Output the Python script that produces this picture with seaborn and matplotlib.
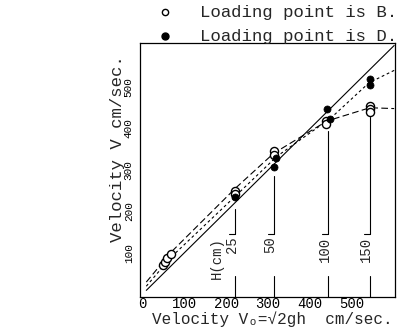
import matplotlib
matplotlib.use("Agg")
import matplotlib.pyplot as plt
import seaborn as sns
import pandas as pd

# ---- data ----
# ideal line V = Vo
ideal_x = [10, 600]
ideal_y = [10, 600]
# fitted curve, loading point B (long dashes)
curve_b_x = [10, 69, 221, 313, 440, 542, 600]
curve_b_y = [30, 102, 255, 340, 418, 450, 448]
# fitted curve, loading point D (short dashes)
curve_d_x = [10, 69, 221, 321, 448, 540, 600]
curve_d_y = [20, 90, 236, 333, 424, 510, 540]
# measured points, loading point B (open circles)
b_x = [50, 55, 60, 69, 221, 221, 313, 313, 438, 438, 542, 542, 542]
b_y = [71, 79, 88, 98, 250, 243, 345, 335, 419, 410, 455, 447, 440]
# measured points, loading point D (filled circles)
d_x = [221, 313, 319, 440, 448, 542, 542]
d_y = [236, 307, 329, 446, 424, 519, 505]
# drop heights H (cm) and corresponding Vo = sqrt(2gh)
h_labels = ["25", "50", "100", "150"]
h_vo = [221, 313, 443, 542]
h_top = [207, 286, 393, 427]
x_ticks = [0, 100, 200, 300, 400, 500]
y_ticks = [100, 200, 300, 400, 500]

sns.set_theme(style="white")
plt.rcParams['font.family'] = ['Liberation Mono', 'DejaVu Sans']

fig = plt.figure(figsize=(4.09, 3.34), dpi=100)
ax = fig.add_axes([140/409, 1-297/334, (395-140)/409, (297-43)/334])

lw = 0.8
sns.lineplot(x=ideal_x, y=ideal_y, ax=ax, color='black', lw=lw, sort=False, estimator=None)
sns.lineplot(x=curve_b_x, y=curve_b_y, ax=ax, color='black', lw=lw, sort=False,
             estimator=None, dashes=False, linestyle=(0, (6, 3)))
sns.lineplot(x=curve_d_x, y=curve_d_y, ax=ax, color='black', lw=lw, sort=False,
             estimator=None, dashes=False, linestyle=(0, (2.5, 2.5)))

sns.scatterplot(x=b_x, y=b_y, ax=ax, marker='o', s=34, facecolor='white',
                edgecolor='black', linewidth=1.0, zorder=5)
sns.scatterplot(x=d_x, y=d_y, ax=ax, marker='o', s=26, color='black',
                edgecolor='black', linewidth=0.5, zorder=6)

# H markers: vertical lines with rotated labels
for lab, xv, top in zip(h_labels, h_vo, h_top):
    ax.plot([xv, xv], [-6, 45], color='black', lw=lw)
    ax.plot([xv, xv], [145, top], color='black', lw=lw)
    ax.plot([xv - 14, xv], [145, 145], color='black', lw=lw)
    ax.text(xv - 8, 140, lab, rotation=90, ha='center', va='top', fontsize=10)
ax.text(179, 88, "H(cm)", rotation=90, ha='center', va='center', fontsize=10)

ax.set_xlim(-5, 602)
ax.set_ylim(-6, 606)
ax.set_xticks(x_ticks)
ax.set_xticklabels([str(v) for v in x_ticks], fontsize=10)
ax.set_yticks(y_ticks)
ax.set_yticklabels([str(v) for v in y_ticks], fontsize=8, rotation=90, va='center')
ax.tick_params(axis='x', direction='in', length=6, width=0.8, pad=0, colors='black')
ax.tick_params(axis='y', direction='inout', length=7, width=0.8, pad=1, colors='black')
for sp in ax.spines.values():
    sp.set_color('black')
    sp.set_linewidth(0.9)
    sp.set_visible(True)

ax.set_xlabel("Velocity V\u2092=\u221a2gh  cm/sec.", fontsize=11.5, va='center')
ax.xaxis.set_label_coords(0.52, -0.088)
ax.set_ylabel("Velocity V cm/sec.", fontsize=12.5, va='center')
ax.yaxis.set_label_coords(-0.09, 0.585)

# legend drawn at the top
fig.text(200/409, 1-12/334, "Loading point is B.", fontsize=12.5, va='center', ha='left')
fig.text(200/409, 1-36/334, "Loading point is D.", fontsize=12.5, va='center', ha='left')
fig.lines.append(plt.Line2D([165/409], [1-12/334], marker='o', ms=4.5, mfc='white',
                            mec='black', mew=1.0, transform=fig.transFigure))
fig.lines.append(plt.Line2D([165/409], [1-36/334], marker='o', ms=5, mfc='black',
                            mec='black', transform=fig.transFigure))

fig.savefig("out.png", dpi=100)
